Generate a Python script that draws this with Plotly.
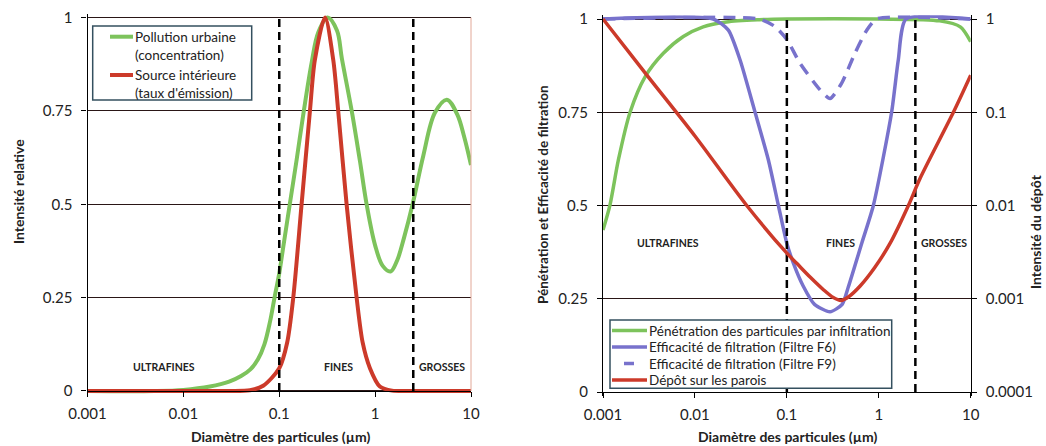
import numpy as np
import plotly.graph_objects as go

# ---------------- data ----------------
# Left chart
urb_x = [0.001, 0.005, 0.01, 0.0189, 0.03, 0.04, 0.05, 0.06, 0.07, 0.08, 0.09, 0.1, 0.11, 0.127,
         0.152, 0.178, 0.218, 0.255, 0.32, 0.4, 0.45, 0.57, 0.695, 0.815, 1.0, 1.2, 1.45,
         1.7, 2.0, 2.46, 3.18, 4.2, 5.6, 7.2, 8.5, 10]
urb_y = [0.0, 0.0, 0.003, 0.012, 0.025, 0.04, 0.058, 0.085, 0.125, 0.185, 0.255, 0.315, 0.385, 0.49,
         0.62, 0.74, 0.88, 0.96, 1.0, 0.965, 0.89, 0.75, 0.615, 0.5, 0.39, 0.335, 0.32,
         0.35, 0.41, 0.5, 0.63, 0.745, 0.78, 0.74, 0.68, 0.605]

src_x = [0.001, 0.01, 0.03, 0.0495, 0.068, 0.1, 0.121, 0.140, 0.171, 0.209, 0.235, 0.300,
         0.366, 0.412, 0.504, 0.641, 0.741, 0.883, 1.12, 1.5, 2.5, 10]
src_y = [0.0, 0.0, 0.0, 0.002, 0.014, 0.061, 0.13, 0.25, 0.5, 0.75, 0.886, 1.0,
         0.886, 0.75, 0.5, 0.25, 0.13, 0.061, 0.012, 0.001, 0.0, 0.0]

# Right chart
pen_x = [0.001, 0.00119, 0.00147, 0.00197, 0.00287, 0.00453, 0.00748, 0.0123, 0.022, 0.05,
         0.1, 1.0, 4.6, 7.7, 10]
pen_y = [0.434, 0.501, 0.622, 0.75, 0.845, 0.908, 0.953, 0.979, 0.992, 0.998,
         1.0, 1.0, 0.995, 0.979, 0.939]

f6_x = [0.001, 0.0158, 0.0231, 0.031, 0.0451, 0.063, 0.0809, 0.0998, 0.118, 0.15, 0.2, 0.295,
        0.4, 0.467, 0.653, 0.873, 1.38, 1.63, 1.98, 10]
f6_y = [1.0, 1.0, 0.97, 0.89, 0.75, 0.622, 0.5, 0.399, 0.345, 0.285, 0.235, 0.215,
        0.235, 0.282, 0.399, 0.5, 0.75, 0.89, 1.0, 1.0]

f9_x = [0.001, 0.05, 0.074, 0.1, 0.14, 0.23, 0.295, 0.395, 0.55, 0.74, 0.95, 10]
f9_y = [1.0, 1.0, 0.98, 0.945, 0.88, 0.81, 0.787, 0.828, 0.908, 0.97, 1.0, 1.0]

dep_x = [0.001, 0.003, 0.01, 0.0366, 0.1, 0.128, 0.18, 0.25, 0.32, 0.39, 0.47, 0.627, 0.9,
         1.33, 2.1, 2.81, 6.48, 10]
dep_y = [1.0, 0.25, 0.0556, 0.01, 0.00308, 0.0024, 0.0017, 0.00125, 0.00103, 0.00096, 0.00105,
         0.00137, 0.00215, 0.00394, 0.01, 0.0195, 0.1, 0.25]

bounds = [0.1, 2.5]
zone_labels = ["ULTRAFINES", "FINES", "GROSSES"]

left_names = ["Pollution urbaine<br>(concentration)", "Source intérieure<br>(taux d'émission)"]
right_names = ["Pénétration des particules par infiltration",
               "Efficacité de filtration (Filtre F6)",
               "Efficacité de filtration (Filtre F9)",
               "Dépôt sur les parois"]

x_ticks = [0.001, 0.01, 0.1, 1, 10]
x_ticktext = ["0.001", "0.01", "0.1", "1", "10"]
y_ticks = [0, 0.25, 0.5, 0.75, 1]
y_ticktext = ["0", "0.25", "0.5", "0.75", "1"]
y3_ticks = [0.0001, 0.001, 0.01, 0.1, 1]
y3_ticktext = ["0.0001", "0.001", "0.01", "0.1", "1"]

# ---------------- style ----------------
W, H = 1046, 446
GREEN = "#7dc35c"
RED = "#cc3a2a"
PURPLE = "#7872cc"
GRID = "#2a1616"
FONT = "Lato"
TXT = "#222"

def px_x(p):
    return p / W

def px_y(p):
    return 1 - p / H

fig = go.Figure()

# left chart traces
fig.add_trace(go.Scatter(x=urb_x, y=urb_y, mode="lines", name=left_names[0], showlegend=False,
                         line=dict(color=GREEN, width=4, shape="spline", smoothing=1.0),
                         xaxis="x", yaxis="y"))
fig.add_trace(go.Scatter(x=src_x, y=src_y, mode="lines", name=left_names[1], showlegend=False,
                         line=dict(color=RED, width=4, shape="spline", smoothing=0.8),
                         xaxis="x", yaxis="y"))
for b in bounds:
    fig.add_trace(go.Scatter(x=[b, b], y=[0, 1], mode="lines", showlegend=False, hoverinfo="skip",
                             line=dict(color="black", width=2.5, dash="8px,5px"),
                             xaxis="x", yaxis="y"))

# right chart traces
fig.add_trace(go.Scatter(x=pen_x, y=pen_y, mode="lines", name=right_names[0], showlegend=False,
                         line=dict(color=GREEN, width=3.5, shape="spline", smoothing=0.8),
                         xaxis="x2", yaxis="y2"))
fig.add_trace(go.Scatter(x=f6_x, y=f6_y, mode="lines", name=right_names[1], showlegend=False,
                         line=dict(color=PURPLE, width=3.5, shape="spline", smoothing=0.6),
                         xaxis="x2", yaxis="y2"))
fig.add_trace(go.Scatter(x=f9_x, y=f9_y, mode="lines", name=right_names[2], showlegend=False,
                         line=dict(color=PURPLE, width=3.5, shape="spline", smoothing=0.6, dash="12px,8px"),
                         xaxis="x2", yaxis="y2"))
for b in bounds:
    fig.add_trace(go.Scatter(x=[b, b], y=[0, 1], mode="lines", showlegend=False, hoverinfo="skip",
                             line=dict(color="black", width=2.5, dash="8px,5px"),
                             xaxis="x2", yaxis="y2"))
fig.add_trace(go.Scatter(x=dep_x, y=dep_y, mode="lines", name=right_names[3], showlegend=False,
                         line=dict(color=RED, width=3.5, shape="spline", smoothing=0.8),
                         xaxis="x2", yaxis="y3"))

tickfont = dict(family=FONT, size=15, color=TXT)

# plot areas in pixels
L0, L1 = 87.5, 471
LB, LT = 391, 17.5
R0, R1 = 603, 970.7
RB, RT = 392, 19
pad = 0.01

def ydom(b, t):
    span = b - t
    return [px_y(b + pad * span), px_y(t - pad * span)]

axis_common = dict(showline=True, linecolor="black", linewidth=1.2, ticks="outside",
                   ticklen=5, tickcolor="black", tickfont=tickfont, automargin=False)

fig.update_layout(
    width=W, height=H, autosize=False,
    margin=dict(l=0, r=0, t=0, b=0, pad=0, autoexpand=False),
    paper_bgcolor="white", plot_bgcolor="white",
    font=dict(family=FONT, color=TXT),
    showlegend=False,
    xaxis=dict(type="log", range=[-3, 1], domain=[px_x(L0), px_x(L1)], anchor="free",
               position=px_y(LB), tickvals=x_ticks, ticktext=x_ticktext, showgrid=False,
               zeroline=False, ticklabelstandoff=4, **axis_common),
    yaxis=dict(range=[-pad, 1 + pad], domain=ydom(LB, LT), anchor="x", tickvals=y_ticks,
               ticktext=y_ticktext, showgrid=True, gridcolor=GRID, gridwidth=1, zeroline=False,
               ticklabelstandoff=6, **axis_common),
    xaxis2=dict(type="log", range=[-3, 1], domain=[px_x(R0), px_x(R1)], anchor="free",
                position=px_y(RB), tickvals=x_ticks, ticktext=x_ticktext, showgrid=False,
                zeroline=False, ticklabelstandoff=4, **axis_common),
    yaxis2=dict(range=[-pad, 1 + pad], domain=ydom(RB, RT), anchor="x2", tickvals=y_ticks,
                ticktext=y_ticktext, showgrid=True, gridcolor=GRID, gridwidth=1, zeroline=False,
                ticklabelstandoff=6, **axis_common),
    yaxis3=dict(type="log", range=[-4 - 4 * pad, 0 + 4 * pad], overlaying="y2", side="right",
                anchor="x2", tickvals=y3_ticks, ticktext=y3_ticktext, showgrid=False,
                zeroline=False, ticklabelstandoff=6, **axis_common),
)

shapes = []
annotations = []

# right border of left plot
shapes.append(dict(type="line", xref="x domain", yref="y", x0=1, x1=1, y0=0, y1=1,
                   line=dict(color="#e2a898", width=1)))

# ----- legends (boxes, samples, labels) -----
BORDER = "#34505f"
leg_font = dict(family=FONT, size=13.5, color=TXT)

# left legend
shapes.append(dict(type="rect", xref="paper", yref="paper", layer="above",
                   x0=px_x(92.7), x1=px_x(251.7), y0=px_y(100), y1=px_y(26),
                   fillcolor="white", line=dict(color=BORDER, width=1.5)))
left_rows = [36.7, 75.0]
left_cols = [GREEN, RED]
for name, yrow, col in zip(left_names, left_rows, left_cols):
    shapes.append(dict(type="line", xref="paper", yref="paper", layer="above",
                       x0=px_x(110), x1=px_x(133), y0=px_y(yrow), y1=px_y(yrow),
                       line=dict(color=col, width=4)))
    annotations.append(dict(x=px_x(133), y=px_y(yrow + 9.2), xref="paper", yref="paper",
                            text=name, showarrow=False, font=leg_font, align="left",
                            xanchor="left", yanchor="middle"))

# right legend
shapes.append(dict(type="rect", xref="paper", yref="paper", layer="above",
                   x0=px_x(610), x1=px_x(891.7), y0=px_y(388.3), y1=px_y(320),
                   fillcolor="white", line=dict(color=BORDER, width=1.5)))
right_rows = [330.5, 347.0, 363.5, 380.0]
right_cols = [GREEN, PURPLE, PURPLE, RED]
for i, (name, yrow, col) in enumerate(zip(right_names, right_rows, right_cols)):
    if i == 2:
        x0s, x1s = 624, 634
    else:
        x0s, x1s = 612, 647
    shapes.append(dict(type="line", xref="paper", yref="paper", layer="above",
                       x0=px_x(x0s), x1=px_x(x1s), y0=px_y(yrow), y1=px_y(yrow),
                       line=dict(color=col, width=3.5)))
    annotations.append(dict(x=px_x(647), y=px_y(yrow), xref="paper", yref="paper",
                            text=name, showarrow=False, font=leg_font, align="left",
                            xanchor="left", yanchor="middle"))

# zone labels
left_zone_x = [0.0063, 0.41, 4.97]
right_zone_x = [0.0051, 0.386, 5.1]
for lab, xl, xr in zip(zone_labels, left_zone_x, right_zone_x):
    annotations.append(dict(x=np.log10(xl), y=0.064, xref="x", yref="y", text=f"<b>{lab}</b>",
                            showarrow=False, font=dict(family=FONT, size=10.5, color=TXT)))
    annotations.append(dict(x=np.log10(xr), y=0.40, xref="x2", yref="y2", text=f"<b>{lab}</b>",
                            showarrow=False, font=dict(family=FONT, size=10.5, color=TXT)))

title_font = dict(family=FONT, size=14, color=TXT)
annotations += [
    dict(x=px_x(280), y=px_y(436), xref="paper", yref="paper", text="<b>Diamètre des particules (µm)</b>",
         showarrow=False, font=title_font, xanchor="center", yanchor="middle"),
    dict(x=px_x(787), y=px_y(436), xref="paper", yref="paper", text="<b>Diamètre des particules (µm)</b>",
         showarrow=False, font=title_font, xanchor="center", yanchor="middle"),
    dict(x=px_x(18), y=px_y(192), xref="paper", yref="paper", text="<b>Intensité relative</b>",
         showarrow=False, font=title_font, textangle=-90, xanchor="center", yanchor="middle"),
    dict(x=px_x(543), y=px_y(195), xref="paper", yref="paper",
         text="<b>Pénétration et Efficacité de filtration</b>",
         showarrow=False, font=dict(family=FONT, size=13.5, color=TXT), textangle=-90,
         xanchor="center", yanchor="middle"),
    dict(x=px_x(1036), y=px_y(232), xref="paper", yref="paper", text="<b>Intensité du dépôt</b>",
         showarrow=False, font=title_font, textangle=-90, xanchor="center", yanchor="middle"),
]
fig.update_layout(shapes=shapes, annotations=annotations)

fig.write_html("out.html", config={"displayModeBar": False},
               post_script="document.body.style.margin='0';document.body.style.padding='0';"
                           "document.body.style.overflow='hidden';")
